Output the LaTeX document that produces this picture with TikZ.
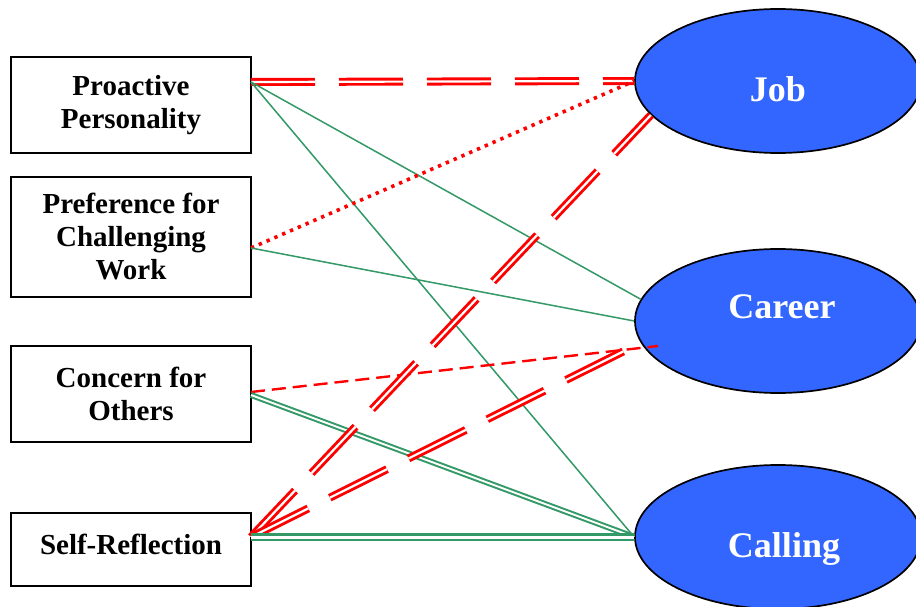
\documentclass[tikz,border=0pt]{standalone}
\usepackage{fontspec}
\setmainfont{Liberation Serif}
\usetikzlibrary{shapes.geometric,calc}
\definecolor{ovalblue}{RGB}{51,102,255}
\definecolor{linkgreen}{RGB}{51,153,102}
\begin{document}
\begin{tikzpicture}[x=1pt,y=-1pt,
  factor/.style={draw=black, line width=2pt, fill=white, minimum width=240pt, inner sep=0pt, align=center, font=\fontsize{29}{33}\selectfont\bfseries},
  oval/.style={ellipse, draw=black, line width=1.7pt, fill=ovalblue, minimum width=286pt, minimum height=144pt, inner sep=0pt},
  ovaltext/.style={anchor=base, text=white, font=\fontsize{36}{40}\selectfont\bfseries, inner sep=0pt},
  thingreen/.style={draw=linkgreen, line width=1.5pt},
  dblgreen/.style={draw=linkgreen, double=white, line width=2pt, double distance=1.9pt},
  dblgreenwide/.style={draw=linkgreen, double=white, line width=2.5pt, double distance=3pt},
  dblred/.style={draw=red, double=white, line width=2.9pt, double distance=2.2pt, dash pattern=on 64pt off 24pt},
  dotred/.style={draw=red, line width=3.6pt, dash pattern=on 3.4pt off 5.1pt},
  dashred/.style={draw=red, line width=2.4pt, dash pattern=on 14pt off 7pt}
]
\clip (0,0) rectangle (916,607);
\fill[white] (0,0) rectangle (916,607);

% left factor boxes
\node[factor, minimum height=96pt] (pp) at (131,105) {Proactive\\Personality};
\node[factor, minimum height=120pt] (pc) at (131,237) {Preference for\\Challenging\\Work};
\node[factor, minimum height=96pt] (co) at (131,394) {Concern for\\Others};
\node[factor, minimum height=73pt] (sr) at (131,549.5) {\raisebox{0pt}[0.72em][0.36em]{Self-Reflection}};

% connection points on the right side of the boxes
\coordinate (ppR) at (251,82);
\coordinate (pcR) at (251,248);
\coordinate (coR) at (251,392);
\coordinate (coG) at (251,395);
\coordinate (srR) at (251,537);

% outcome ovals
\node[oval] (job) at (778,81) {};
\node[oval] (career) at (778,321) {};
\node[oval] (calling) at (778,537) {};

% connectors
\draw[dblred] (ppR) -- (job.west);
\draw[thingreen] (ppR) -- (career.171);
\draw[thingreen] (ppR) -- (calling.west);
\draw[dotred] (pcR) -- (job.west);
\draw[thingreen] (pcR) -- (career.west);
\draw[dashred] (coR) -- ($(career.center)+(-120,25)$);
\draw[dblgreen] (coG) -- (calling.west);
\draw[dblred] (srR) -- (job.195);
\draw[dblred] (srR) -- (career.189);
\draw[dblgreenwide] (srR) -- (calling.west);

% oval labels
\node[ovaltext] (jobT) at (778,102) {Job};
\node[ovaltext] (careerT) at (782,318) {Career};
\node[ovaltext] (callingT) at (784,557) {Calling};
\end{tikzpicture}
\end{document}
